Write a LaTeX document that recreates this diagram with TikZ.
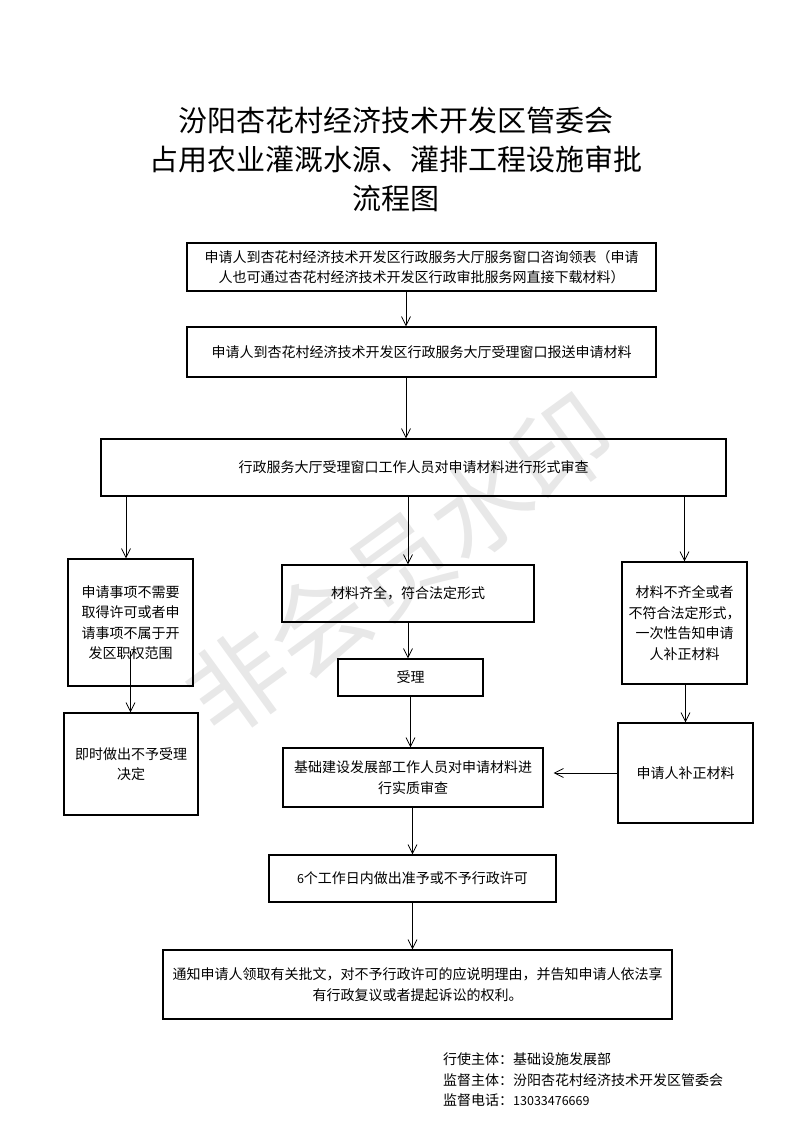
\documentclass[tikz,border=0pt]{standalone}
\usepackage{fontspec}
\setmainfont{Noto Sans CJK SC}
\usetikzlibrary{arrows.meta}
\begin{document}
\begin{tikzpicture}[x=1pt,y=-1pt,
    box/.style={draw,line width=1.1pt,inner sep=0pt,align=center,
      font=\fontsize{14}{20.5}\selectfont},
    flow/.style={-{Straight Barb[length=9pt,width=9pt]},line width=0.8pt}]
  \useasboundingbox (0,0) rectangle (793,1122);
  \node[rotate=36,text=black!9,font=\fontsize{100}{100}\selectfont] (watermark) at (400,565) {非会员水印};
  \node[align=center,font=\fontsize{29}{39}\selectfont] (title) at (396,159)
    {汾阳杏花村经济技术开发区管委会\\占用农业灌溉水源、灌排工程设施审批\\流程图};
  \node[box,minimum width=469pt,minimum height=48pt] (apply) at (421.5,267)
    {申请人到杏花村经济技术开发区行政服务大厅服务窗口咨询领表（申请\\人也可通过杏花村经济技术开发区行政审批服务网直接下载材料）};
  \node[box,minimum width=469pt,minimum height=50pt] (submit) at (421.5,352)
    {申请人到杏花村经济技术开发区行政服务大厅受理窗口报送申请材料};
  \node[box,minimum width=625pt,minimum height=57pt] (check) at (413.5,467.5)
    {行政服务大厅受理窗口工作人员对申请材料进行形式审查};
  \node[box,minimum width=125pt,minimum height=127pt] (notneed) at (130.5,622.5)
    {申请事项不需要\\取得许可或者申\\请事项不属于开\\发区职权范围};
  \node[box,minimum width=134pt,minimum height=102pt] (reject) at (131,764)
    {即时做出不予受理\\决定};
  \node[box,minimum width=252pt,minimum height=57pt] (complete) at (408,593.5)
    {材料齐全，符合法定形式};
  \node[box,minimum width=145pt,minimum height=37pt] (accept) at (410.5,677.5) {受理};
  \node[box,minimum width=260pt,minimum height=59pt] (review) at (413,777.5)
    {基础建设发展部工作人员对申请材料进\\行实质审查};
  \node[box,minimum width=125pt,minimum height=122pt] (incomplete) at (684.5,623)
    {材料不齐全或者\\不符合法定形式，\\一次性告知申请\\人补正材料};
  \node[box,minimum width=135pt,minimum height=100pt] (supplement) at (685.5,773)
    {申请人补正材料};
  \node[box,minimum width=287pt,minimum height=47pt] (decide) at (412.5,878.5)
    {{\fontsize{12.5}{20.5}\selectfont 6}个工作日内做出准予或不予行政许可};
  \node[box,minimum width=509pt,minimum height=69pt] (notify) at (417.5,984.5)
    {通知申请人领取有关批文，对不予行政许可的应说明理由，并告知申请人依法享\\有行政复议或者提起诉讼的权利。};
  \node[anchor=west,align=left,inner sep=0pt,font=\fontsize{14}{20.5}\selectfont] (footer) at (443,1080)
    {行使主体：基础设施发展部\\监督主体：汾阳杏花村经济技术开发区管委会\\监督电话：{\fontsize{12.5}{20.5}\selectfont 13033476669}};
  \coordinate (cut) at ([yshift=36pt]notneed.south);
  \draw[flow] ([xshift=-15.5pt]apply.south) -- ([xshift=-15.5pt]submit.north);
  \draw[flow] ([xshift=-15.5pt]submit.south) -- ([xshift=-15.5pt]submit.south |- check.north);
  \draw[flow] ([xshift=-4.5pt]notneed.north |- check.south) -- ([xshift=-4.5pt]notneed.north);
  \draw[flow] (complete.north |- check.south) -- (complete.north);
  \draw[flow] (incomplete.north |- check.south) -- (incomplete.north);
  \draw[flow] (cut) -- (cut |- reject.north);
  \draw[flow] (complete.south) -- (complete.south |- accept.north);
  \draw[flow] (accept.south) -- (accept.south |- review.north);
  \draw[flow] (decide.north |- review.south) -- (decide.north);
  \draw[flow] (decide.south) -- (decide.south |- notify.north);
  \draw[flow] (supplement.north |- incomplete.south) -- (supplement.north);
  \draw[flow,shorten >=10pt] (supplement.west) -- (review.east |- supplement.west);
\end{tikzpicture}
\end{document}
